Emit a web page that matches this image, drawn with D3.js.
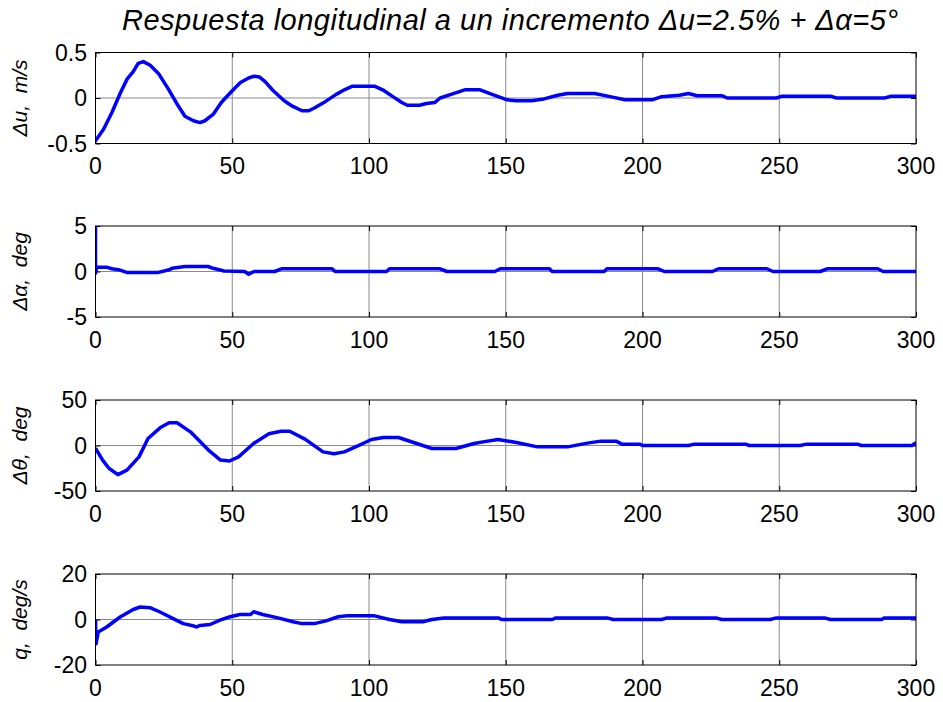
<!DOCTYPE html>
<html>
<head>
<meta charset="utf-8">
<script src="https://cdn.jsdelivr.net/npm/d3@7"></script>
<style>
  html, body { margin: 0; padding: 0; background: #fff; }
  svg { display: block; }
  text { font-family: "Liberation Sans", Arial, Helvetica, sans-serif; fill: #000; }
</style>
</head>
<body>
<svg id="chart" width="943" height="702"></svg>
<script>
// ---------- Data ----------
const titleText = "Respuesta longitudinal a un incremento \u0394u=2.5% + \u0394\u03b1=5\u00b0";
const xTicks = [0, 50, 100, 150, 200, 250, 300];

const uLabel = "\u0394u,  m/s";
const uTicks = [-0.5, 0, 0.5];
const uTime = [0, 3, 6, 9, 11.6, 13.8, 15.6, 17.5, 20, 23, 26.6, 29.7, 32.7, 35.8, 38.2, 40, 43, 46, 50, 53, 56, 58, 60, 62, 65, 69, 72, 75.5, 78, 80, 84, 88, 91, 94, 102, 105, 109, 112, 114, 118.5, 121, 124, 126, 130, 135, 140.6, 145, 150.5, 154, 159.4, 164, 169, 172.6, 182.5, 189, 193.6, 203.5, 207, 213.5, 216.8, 220, 229, 231, 249, 251, 268.7, 271, 288.5, 291, 300];
const uValues = [-0.47, -0.34, -0.16, 0.05, 0.21, 0.29, 0.38, 0.40, 0.36, 0.27, 0.10, -0.06, -0.20, -0.25, -0.27, -0.25, -0.18, -0.05, 0.08, 0.17, 0.22, 0.24, 0.23, 0.18, 0.08, -0.03, -0.09, -0.14, -0.14, -0.11, -0.04, 0.04, 0.09, 0.13, 0.13, 0.09, 0.01, -0.05, -0.08, -0.08, -0.06, -0.05, 0.0, 0.04, 0.09, 0.09, 0.04, -0.02, -0.03, -0.03, -0.01, 0.03, 0.05, 0.05, 0.01, -0.02, -0.02, 0.015, 0.03, 0.05, 0.025, 0.025, 0.0, 0.0, 0.02, 0.02, 0.0, 0.0, 0.02, 0.02];

const alphaLabel = "\u0394\u03b1,  deg";
const alphaTicks = [-5, 0, 5];
const alphaTime = [0, 0, 0.5, 4, 6, 8.4, 11.4, 23, 26.6, 28, 32.7, 41.2, 43, 47, 54.5, 56, 58, 65.5, 68, 86.5, 87.6, 106.4, 107.5, 126, 128.5, 146, 148, 166, 167, 186, 187, 205.7, 208, 225.6, 227.8, 245.5, 247.7, 265, 267.5, 286, 288, 300];
const alphaValues = [5, -0.2, 0.5, 0.48, 0.3, 0.2, -0.1, -0.1, 0.16, 0.35, 0.55, 0.55, 0.35, 0.05, 0.0, -0.3, 0.0, 0.0, 0.3, 0.3, 0.0, 0.0, 0.3, 0.3, 0.0, 0.0, 0.3, 0.3, 0.0, 0.0, 0.3, 0.3, 0.0, 0.0, 0.3, 0.3, 0.0, 0.0, 0.3, 0.3, 0.0, 0.0];

const thetaLabel = "\u0394\u03b8,  deg";
const thetaTicks = [-50, 0, 50];
const thetaTime = [0, 2.6, 4.9, 8.2, 11.5, 15.9, 19.2, 23.6, 26.9, 29.8, 34.7, 41.3, 45.7, 49, 52.3, 57.8, 63.4, 67.8, 71, 76.6, 83.2, 87.2, 91, 96.5, 100.9, 105.3, 110.8, 116.3, 123, 131.8, 138.4, 141.7, 147.2, 153.9, 161.6, 172.6, 176, 180.4, 184.8, 190.3, 192.5, 199, 200, 216.8, 219, 237.7, 239, 257.6, 260, 278.6, 280, 298.5, 300];
const thetaValues = [-3, -16, -25, -32, -27, -12.5, 7.7, 19.4, 25, 25, 15, -5, -16, -17, -12.5, 2.2, 13, 15.7, 15.7, 7, -7, -9, -7, 0.4, 6.6, 8.8, 8.8, 3.3, -3.3, -3.3, 2.2, 4, 6.6, 3.3, -1.5, -1.5, 0.4, 2.9, 4.8, 4.8, 1.5, 1.5, 0, 0, 1.5, 1.5, 0, 0, 1.5, 1.5, 0, 0, 3];

const qLabel = "q,  deg/s";
const qTicks = [-20, 0, 20];
const qTime = [0, 0.2, 1, 4.1, 9, 13.8, 16.3, 19.9, 23.6, 28.4, 32.1, 35.2, 37, 38.2, 41.9, 45.5, 49.2, 52.8, 56.7, 57.8, 61.1, 66.7, 72.2, 75.5, 80, 84.3, 88.7, 92, 102, 107.5, 112, 119.7, 123, 127.4, 147.3, 148.4, 167, 168.3, 187, 189.3, 207, 209, 226.8, 229, 246.7, 249, 266.5, 268.7, 287.4, 288.5, 300];
const qValues = [0, -10.7, -5.5, -3.3, 1.1, 4.4, 5.5, 5.2, 3.3, 0.4, -1.8, -2.6, -3.3, -2.6, -2.2, -0.3, 1.2, 2.2, 2.2, 3.4, 2.2, 0.7, -1, -1.8, -1.8, -0.6, 1.2, 1.6, 1.6, 0, -1, -1, 0, 0.7, 0.7, 0, 0, 0.7, 0.7, 0, 0, 0.7, 0.7, 0, 0, 0.7, 0.7, 0, 0, 0.7, 0.7];

// ---------- Layout ----------
const svg = d3.select("#chart");
const left = 95.5, right = 916;
const panelTops = [52.5, 226, 400, 574];
const panelH = 91;
const tickLen = 5;
const tickFont = 23;
const labelFont = 21;

const panels = [
  { label: uLabel, ticks: uTicks, time: uTime, values: uValues },
  { label: alphaLabel, ticks: alphaTicks, time: alphaTime, values: alphaValues },
  { label: thetaLabel, ticks: thetaTicks, time: thetaTime, values: thetaValues },
  { label: qLabel, ticks: qTicks, time: qTime, values: qValues }
];

const x = d3.scaleLinear().domain([0, 300]).range([left, right]);

svg.append("text")
  .attr("x", 510)
  .attr("y", 29.5)
  .attr("text-anchor", "middle")
  .attr("font-size", 29)
  .attr("font-style", "italic")
  .attr("textLength", 776)
  .attr("lengthAdjust", "spacing")
  .text(titleText);

panels.forEach((p, i) => {
  const top = panelTops[i], bottom = top + panelH;
  const y = d3.scaleLinear().domain([p.ticks[0], p.ticks[p.ticks.length - 1]]).range([bottom, top]);
  const g = svg.append("g");

  // grid lines
  g.selectAll("line.vgrid").data(xTicks.slice(1, -1)).enter().append("line")
    .attr("x1", d => x(d)).attr("x2", d => x(d))
    .attr("y1", top).attr("y2", bottom)
    .attr("stroke", "#8a8a8a").attr("stroke-width", 1);
  g.selectAll("line.hgrid").data(p.ticks.slice(1, -1)).enter().append("line")
    .attr("x1", left).attr("x2", right)
    .attr("y1", d => y(d)).attr("y2", d => y(d))
    .attr("stroke", "#8a8a8a").attr("stroke-width", 1);

  // inward tick marks on all four sides
  const axB = d3.axisBottom(x).tickValues(xTicks).tickSizeInner(-tickLen).tickSizeOuter(0).tickFormat("");
  const axT = d3.axisTop(x).tickValues(xTicks).tickSizeInner(-tickLen).tickSizeOuter(0).tickFormat("");
  const axL = d3.axisLeft(y).tickValues(p.ticks).tickSizeInner(-tickLen).tickSizeOuter(0).tickFormat("");
  const axR = d3.axisRight(y).tickValues(p.ticks).tickSizeInner(-tickLen).tickSizeOuter(0).tickFormat("");
  [[axB, `translate(0,${bottom})`], [axT, `translate(0,${top})`], [axL, `translate(${left},0)`], [axR, `translate(${right},0)`]]
    .forEach(([ax, tr]) => {
      const a = g.append("g").attr("transform", tr).call(ax);
      a.select(".domain").remove();
      a.selectAll("line").attr("stroke", "#000").attr("stroke-width", 1);
    });

  // data line
  const clipId = "clip" + i;
  svg.append("clipPath").attr("id", clipId).append("rect")
    .attr("x", left).attr("y", top - 1.5).attr("width", right - left).attr("height", panelH + 3);
  const pts = p.time.map((t, k) => [t, p.values[k]]);
  g.append("path")
    .datum(pts)
    .attr("clip-path", `url(#${clipId})`)
    .attr("fill", "none")
    .attr("stroke", "#0000ff")
    .attr("stroke-width", 3.5)
    .attr("stroke-linejoin", "round")
    .attr("d", d3.line().x(d => x(d[0])).y(d => y(d[1])));

  // box
  g.append("rect").attr("x", left).attr("y", top).attr("width", right - left).attr("height", panelH)
    .attr("fill", "none").attr("stroke", "#000").attr("stroke-width", 1);

  // tick labels
  g.selectAll("text.xl").data(xTicks).enter().append("text")
    .attr("x", d => x(d)).attr("y", bottom + 30.5)
    .attr("text-anchor", "middle").attr("font-size", tickFont)
    .text(d => d);
  g.selectAll("text.yl").data(p.ticks).enter().append("text")
    .attr("x", 87).attr("y", d => y(d) + 8)
    .attr("text-anchor", "end").attr("font-size", tickFont)
    .text(d => d);

  // y label
  g.append("text")
    .attr("transform", `translate(27,${(top + bottom) / 2}) rotate(-90)`)
    .attr("text-anchor", "middle")
    .attr("font-size", labelFont)
    .attr("font-style", "italic")
    .style("white-space", "pre")
    .text(p.label);
});
</script>
</body>
</html>
